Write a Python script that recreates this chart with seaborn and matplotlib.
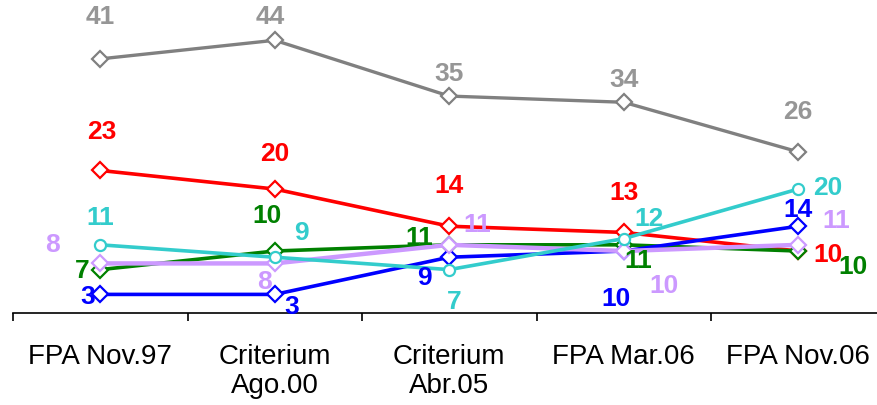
import matplotlib
matplotlib.use("Agg")
import matplotlib.pyplot as plt
import seaborn as sns
import pandas as pd

# survey series
polls = ["FPA Nov.97", "Criterium\nAgo.00", "Criterium\nAbr.05", "FPA Mar.06", "FPA Nov.06"]
gray = [41, 44, 35, 34, 26]
red = [23, 20, 14, 13, 10]
green = [7, 10, 11, 11, 10]
blue = [3, 3, 9, 10, 14]
lavender = [8, 8, 11, 10, 11]
cyan = [11, 9, 7, 12, 20]

series = {"gray": gray, "red": red, "green": green, "blue": blue, "lavender": lavender, "cyan": cyan}

colors = {"gray": "#808080", "red": "#ff0000", "green": "#008000", "blue": "#0000ff",
          "lavender": "#cc99ff", "cyan": "#33cccc"}
text_colors = {"gray": "#969696", "red": "#ff0000", "green": "#008000", "blue": "#0000ff",
               "lavender": "#cc99ff", "cyan": "#33cccc"}
markers = {"gray": "D", "red": "D", "green": "D", "blue": "D", "lavender": "D", "cyan": "o"}
widths = {"gray": 2.4, "red": 2.6, "green": 2.6, "blue": 2.6, "lavender": 3.2, "cyan": 2.6}

# label offsets in pixels (dx, dy up)
offsets = {
    "gray": [(0, 42), (-5, 23), (0, 22), (0, 22), (0, 40)],
    "red": [(2, 38), (0, 35), (0, 40), (0, 39), (30, -4)],
    "green": [(-18, -1), (-8, 35), (-30, 7), (14, -16), (55, -16)],
    "blue": [(-13, -3), (17, -13), (-25, -21), (-8, -48), (0, 16)],
    "lavender": [(-48, 18), (-10, -19), (28, 20), (40, -35), (38, 24)],
    "cyan": [(0, 27), (27, 24), (5, -32), (25, 20), (30, 1)],
}

df = pd.DataFrame({"x": list(range(len(polls))) * len(series),
                   "y": [v for s in series.values() for v in s],
                   "serie": [k for k, s in series.items() for _ in s]})

sns.set_style("white")
plt.rcParams["font.family"] = ["Liberation Sans", "DejaVu Sans"]

fig = plt.figure(figsize=(8.77, 4.05), dpi=100)
ax = fig.add_axes([13 / 877, 92 / 405, 872.5 / 877, 313 / 405])

for name in series:
    sub = df[df["serie"] == name]
    sns.lineplot(data=sub, x="x", y="y", ax=ax, color=colors[name], lw=widths[name],
                 marker=markers[name], markersize=8,
                 markerfacecolor="white", markeredgecolor=colors[name], markeredgewidth=1.6,
                 legend=False)
    for i, v in enumerate(series[name]):
        dx, dy = offsets[name][i]
        ax.annotate(str(v), (i, v), xytext=(dx, dy), textcoords="offset pixels",
                    ha="center", va="center", fontsize=19, fontweight="bold",
                    color=text_colors[name])

ax.set_xlim(-0.5, len(polls) - 0.5)
ax.set_ylim(0, 50.5)
ax.set_xlabel("")
ax.set_ylabel("")
ax.set_yticks([])
for side in ["top", "right", "left"]:
    ax.spines[side].set_visible(False)
ax.spines["bottom"].set_color("black")
ax.spines["bottom"].set_linewidth(1.2)

ax.set_xticks([i - 0.5 for i in range(len(polls) + 1)])
ax.set_xticklabels([])
ax.set_xticks(range(len(polls)), minor=True)
ax.set_xticklabels(polls, minor=True, fontsize=20, linespacing=1.15, color="black")
ax.tick_params(axis="x", which="major", direction="out", length=6, width=1.2, color="black", bottom=True)
ax.tick_params(axis="x", which="minor", length=0, pad=22)

fig.savefig("out.png", dpi=100)
